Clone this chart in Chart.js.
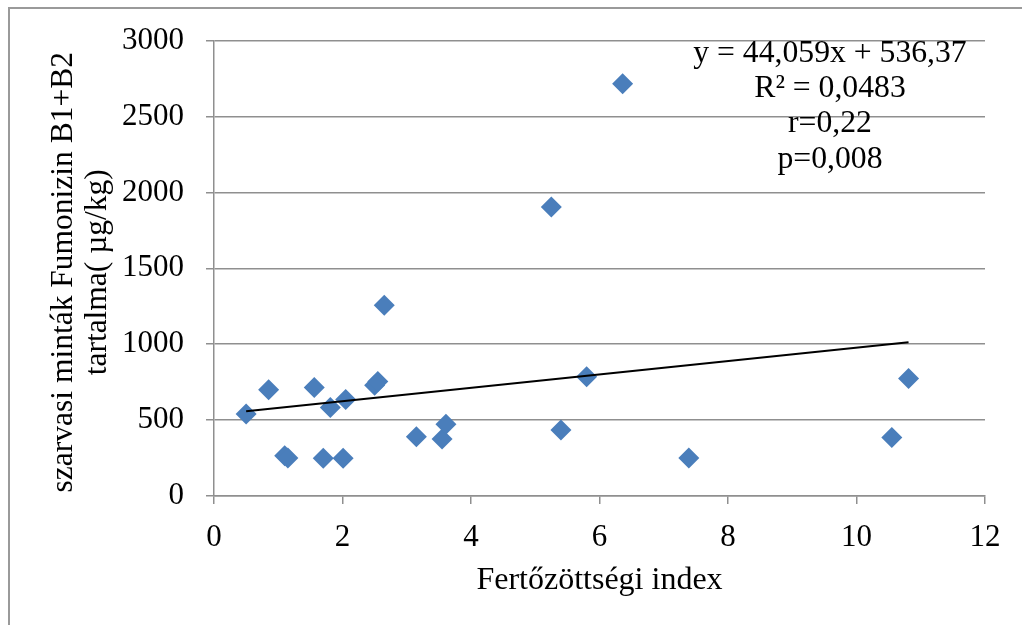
<!DOCTYPE html>
<html>
<head>
<meta charset="utf-8">
<script src="https://cdn.jsdelivr.net/npm/chart.js@4"></script>
<style>
  html, body { margin: 0; padding: 0; background: #ffffff; }
  #wrap { width: 1022px; height: 625px; position: relative; }
</style>
</head>
<body>
<div id="wrap"><canvas id="c" width="1022" height="625"></canvas></div>
<script>
// Data
const indexValues = [0.5, 0.85, 1.1, 1.15, 1.56, 1.70, 1.81, 2.01, 2.05, 2.5, 2.55, 2.65, 3.15, 3.55, 3.61, 5.25, 5.40, 5.80, 6.36, 7.39, 10.55, 10.81];
const fumonizinValues = [540, 700, 265, 250, 715, 248, 583, 248, 636, 730, 755, 1257, 390, 375, 472, 1903, 434, 785, 2715, 250, 386, 774];
const trendX = [0.5, 10.81];
const trendY = [558.4, 1012.6];
const yTicks = [0, 500, 1000, 1500, 2000, 2500, 3000];
const xTicks = [0, 2, 4, 6, 8, 10, 12];
const annotationLines = ['y = 44,059x + 536,37', 'R² = 0,0483', 'r=0,22', 'p=0,008'];
const xTitle = 'Fertőzöttségi index';
const yTitle = ['szarvasi minták Fumonizin B1+B2\u00a0', 'tartalma( µg/kg)\u00a0'];

const FONT = 'Liberation Serif';
const GRID = '#8f8f8f';

const scatterPoints = indexValues.map((x, i) => ({ x: x, y: fumonizinValues[i] }));
const trendPoints = trendX.map((x, i) => ({ x: x, y: trendY[i] }));

const frameAndText = {
  id: 'frameAndText',
  beforeDraw(chart) {
    const ctx = chart.ctx;
    ctx.save();
    ctx.fillStyle = '#ffffff';
    ctx.fillRect(0, 0, chart.width, chart.height);
    ctx.strokeStyle = '#9a9a9a';
    ctx.lineWidth = 2;
    ctx.beginPath();
    ctx.moveTo(9, chart.height + 5);
    ctx.lineTo(9, 8);
    ctx.lineTo(chart.width + 5, 8);
    ctx.stroke();
    ctx.restore();
  },
  afterDraw(chart) {
    const ctx = chart.ctx;
    ctx.save();
    ctx.fillStyle = '#000000';
    ctx.font = '31.7px "' + FONT + '"';
    ctx.textAlign = 'center';
    ctx.textBaseline = 'alphabetic';
    const baselines = [62, 97, 132, 168];
    annotationLines.forEach((t, i) => ctx.fillText(t, 830, baselines[i]));
    ctx.restore();
  }
};

new Chart(document.getElementById('c'), {
  type: 'scatter',
  data: {
    datasets: [
      {
        type: 'line',
        label: 'trend',
        data: trendPoints,
        borderColor: '#000000',
        borderWidth: 2,
        pointRadius: 0,
        fill: false,
        tension: 0
      },
      {
        label: 'Fumonizin',
        data: scatterPoints,
        pointStyle: 'rectRot',
        pointRadius: 10.5,
        pointHoverRadius: 10.5,
        backgroundColor: '#4a7ebb',
        borderColor: '#4a7ebb',
        borderWidth: 0
      }
    ]
  },
  options: {
    responsive: false,
    animation: false,
    events: [],
    layout: { padding: { left: 0, top: 40, right: 37, bottom: 0 } },
    plugins: { legend: { display: false }, tooltip: { enabled: false } },
    scales: {
      x: {
        type: 'linear',
        min: 0, max: 12,
        afterBuildTicks(scale) { scale.ticks = xTicks.map(v => ({ value: v })); },
        afterFit(scale) { scale.height = 129; },
        grid: { color: 'rgba(0,0,0,0)', tickColor: GRID, tickLength: 8, lineWidth: 1.5, drawOnChartArea: false },
        border: { display: true, color: GRID, width: 1.5 },
        ticks: { color: '#000000', font: { family: FONT, size: 31 }, padding: 15, maxRotation: 0, callback: v => String(v) },
        title: { display: true, text: xTitle, color: '#000000', font: { family: FONT, size: 32, lineHeight: 1.1 }, padding: { top: 0, bottom: 27 } }
      },
      y: {
        type: 'linear',
        min: 0, max: 3000,
        afterBuildTicks(scale) { scale.ticks = yTicks.map(v => ({ value: v })); },
        afterFit(scale) { scale.width = 214; },
        grid: { color: GRID, tickColor: GRID, tickLength: 8, lineWidth: 1.5 },
        border: { display: true, color: GRID, width: 1.5 },
        ticks: { color: '#000000', font: { family: FONT, size: 31 }, padding: 22, callback: v => String(v) },
        title: { display: true, text: yTitle, color: '#000000', font: { family: FONT, size: 31.5, lineHeight: 1.1 }, padding: { top: 46, bottom: 0 } }
      }
    }
  },
  plugins: [frameAndText]
});
</script>
</body>
</html>
